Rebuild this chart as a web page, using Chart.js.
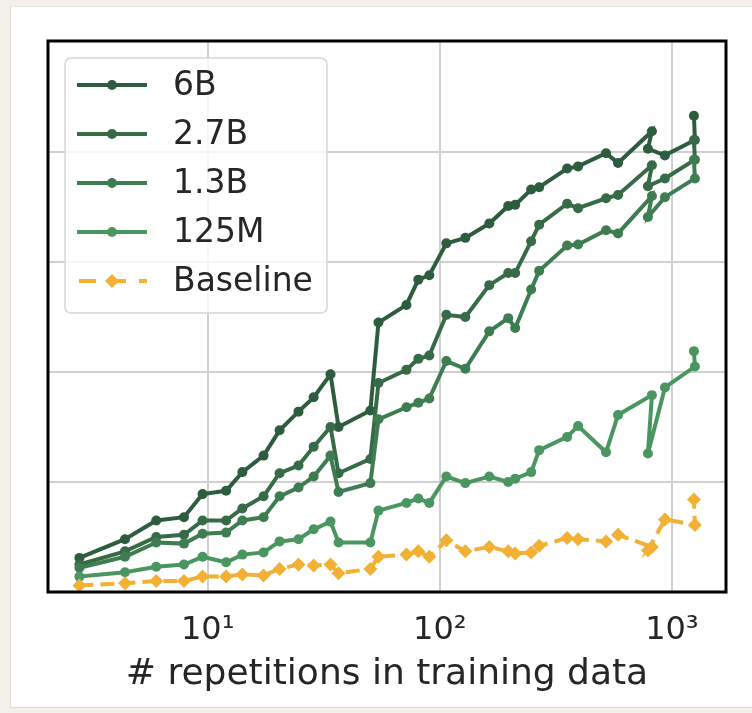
<!DOCTYPE html>
<html>
<head>
<meta charset="utf-8">
<script src="https://cdn.jsdelivr.net/npm/chart.js@4.4.0/dist/chart.umd.min.js"></script>
<style>
  html, body { margin: 0; padding: 0; background: #f3f0eb; }
  body { width: 752px; height: 713px; position: relative; overflow: hidden; }
  #tarjeta { position: absolute; left: 10px; top: 6px; width: 742px; height: 700px; background: #fff;
             border-left: 1px solid #e0ddd8; border-top: 1px solid #e6e3de; border-bottom: 1px solid #e0ddd8; }
  #caja { position: absolute; left: 0; top: 0; width: 752px; height: 713px; }
</style>
</head>
<body>
<div id="tarjeta"></div>
<div id="caja"><canvas id="grafico" width="752" height="713"></canvas></div>
<script>
// Repeticiones (eje x, escala log)
const repeticiones = [2.8, 4.4, 6, 7.9, 9.5, 12, 14.1, 17.4, 20.4, 24.6, 28.6, 33.8, 36.6, 50.2, 54.4, 71.8, 80.8,
  90.1, 106.7, 128.8, 163.3, 197.1, 211.2, 247.5, 267.9, 353.6, 394.2, 520.2, 585.9, 820, 788, 933, 1256, 1244];

// Valores por modelo
const modelo6B = [3.1, 4.8, 6.5, 6.8, 8.9, 9.2, 10.9, 12.4, 14.7, 16.4, 17.7, 19.8, 15.0, 16.5, 24.5, 26.1, 28.4,
  28.8, 31.7, 32.2, 33.5, 35.1, 35.2, 36.6, 36.8, 38.5, 38.7, 39.9, 39.0, 41.9, 40.3, 39.7, 41.1, 43.3];
const modelo27B = [2.5, 3.7, 5.0, 5.2, 6.5, 6.5, 7.6, 8.7, 10.8, 11.5, 13.2, 15.0, 10.8, 12.1, 19.0, 20.2, 21.2,
  21.5, 25.2, 25.0, 27.9, 29.0, 29.0, 31.9, 33.4, 35.3, 34.9, 35.8, 36.1, 38.8, 36.9, 37.6, 39.3, 41.1];
const modelo13B = [2.2, 3.2, 4.5, 4.4, 5.3, 5.4, 6.5, 6.8, 8.7, 9.5, 10.5, 12.4, 9.1, 9.9, 15.7, 16.8, 17.2,
  17.6, 21.0, 20.3, 23.7, 24.9, 24.0, 27.5, 29.2, 31.5, 31.6, 32.9, 32.6, 36.0, 34.1, 35.9, 37.6, 39.3];
const modelo125M = [1.4, 1.8, 2.3, 2.5, 3.2, 2.7, 3.4, 3.6, 4.6, 4.8, 5.7, 6.4, 4.5, 4.5, 7.4, 8.1, 8.5,
  8.1, 10.5, 9.9, 10.5, 10.0, 10.3, 10.9, 12.9, 14.1, 15.1, 12.7, 16.1, 17.9, 12.6, 18.6, 20.5, 21.9];
const baseline = [0.6, 0.8, 1.0, 1.0, 1.4, 1.4, 1.6, 1.5, 2.1, 2.5, 2.4, 2.5, 1.7, 2.1, 3.2, 3.4, 3.7,
  3.2, 4.7, 3.7, 4.1, 3.7, 3.5, 3.6, 4.2, 4.9, 4.8, 4.6, 5.2, 4.1, 3.8, 6.6, 6.1, 8.4];

// Ejes
const xTicks = [10, 100, 1000];
const xEtiquetas = ['10\u00b9', '10\u00b2', '10\u00b3'];
const yTicks = [10, 20, 30, 40];

const fuente = 'DejaVu Sans';
const texto = '#262626';

function serie(label, valores, color, orden) {
  return {
    label,
    data: repeticiones.map((x, i) => ({ x, y: valores[i] })),
    borderColor: color,
    backgroundColor: color,
    borderWidth: 4,
    pointRadius: 5,
    pointBorderWidth: 0,
    pointBackgroundColor: color,
    tension: 0,
    order: orden
  };
}

const datasets = [
  serie('6B', modelo6B, '#2e5c3e', 5),
  serie('2.7B', modelo27B, '#376b47', 4),
  serie('1.3B', modelo13B, '#3e7d51', 3),
  serie('125M', modelo125M, '#4a9660', 2),
  Object.assign(serie('Baseline', baseline, '#f2b134', 1), {
    borderDash: [14, 7],
    pointStyle: 'rectRot',
    pointRadius: 7
  })
];

// Marco negro alrededor del area
const marco = {
  id: 'marco',
  afterDatasetsDraw(chart) {
    const { ctx, chartArea: a } = chart;
    ctx.save();
    ctx.strokeStyle = '#000';
    ctx.lineWidth = 3;
    ctx.strokeRect(a.left, a.top, a.right - a.left, a.bottom - a.top);
    ctx.restore();
  }
};

// Leyenda dentro del grafico
const leyenda = {
  id: 'leyenda',
  afterDraw(chart) {
    const { ctx, chartArea: a } = chart;
    const x0 = a.left + 17, y0 = a.top + 17;
    ctx.save();
    ctx.beginPath();
    ctx.roundRect(x0, y0, 262, 255, 6);
    ctx.fillStyle = 'rgba(255,255,255,0.8)';
    ctx.fill();
    ctx.strokeStyle = '#d6d6d6';
    ctx.lineWidth = 1.5;
    ctx.stroke();
    chart.data.datasets.forEach((ds, i) => {
      const y = y0 + 27 + i * 49;
      ctx.strokeStyle = ds.borderColor;
      ctx.lineWidth = ds.borderWidth;
      ctx.setLineDash(ds.borderDash ? [17, 13] : []);
      ctx.lineDashOffset = ds.borderDash ? -2 : 0;
      ctx.beginPath();
      ctx.moveTo(x0 + 12, y);
      ctx.lineTo(x0 + 82, y);
      ctx.stroke();
      ctx.setLineDash([]);
      ctx.fillStyle = ds.pointBackgroundColor;
      Chart.helpers.drawPoint(ctx, { pointStyle: ds.pointStyle || 'circle', radius: ds.pointRadius, borderWidth: 0, rotation: 0 }, x0 + 47, y);
      ctx.fillStyle = texto;
      ctx.font = `33px "${fuente}"`;
      ctx.textBaseline = 'middle';
      ctx.fillText(ds.label, x0 + 108, y + 1);
    });
    ctx.restore();
  }
};

new Chart(document.getElementById('grafico'), {
  type: 'line',
  data: { datasets },
  options: {
    responsive: false,
    animation: false,
    layout: { padding: { left: 48, top: 41, right: 26, bottom: 0 } },
    plugins: { legend: { display: false }, tooltip: { enabled: false } },
    scales: {
      x: {
        type: 'logarithmic',
        min: 2.05,
        max: 1710,
        afterBuildTicks: s => { s.ticks = xTicks.map(v => ({ value: v })); },
        afterFit: s => { s.height = 121; },
        border: { display: false },
        grid: { color: '#cfcfcf', lineWidth: 2, drawTicks: false },
        ticks: {
          autoSkip: false,
          maxRotation: 0,
          padding: 19,
          color: texto,
          font: { family: fuente, size: 32 },
          callback: v => xEtiquetas[xTicks.indexOf(v)]
        },
        title: {
          display: true,
          text: '# repetitions in training data',
          color: texto,
          font: { family: fuente, size: 36 },
          padding: { top: 0, bottom: 17 }
        }
      },
      y: {
        min: 0,
        max: 50.1,
        afterBuildTicks: s => { s.ticks = yTicks.map(v => ({ value: v })); },
        afterFit: s => { s.width = 0; },
        border: { display: false },
        grid: { color: '#cfcfcf', lineWidth: 2, drawTicks: false },
        ticks: { display: false }
      }
    }
  },
  plugins: [marco, leyenda]
});
</script>
</body>
</html>
